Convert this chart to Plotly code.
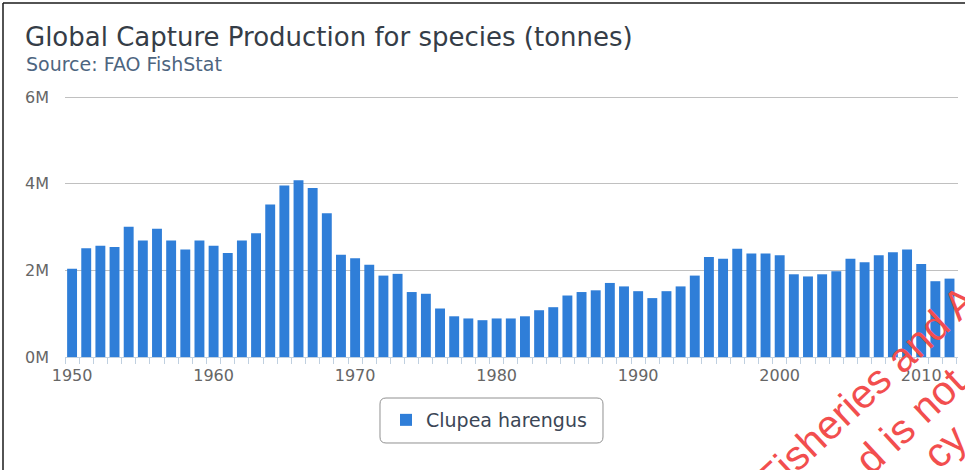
import plotly.graph_objects as go

# FAO FishStat, global capture of Atlantic herring, tonnes per year
years = list(range(1950, 2013))
catch_tonnes = [
    2040000, 2510000, 2570000, 2540000, 3010000, 2690000, 2960000, 2690000, 2480000, 2690000,
    2570000, 2400000, 2690000, 2860000, 3520000, 3960000, 4080000, 3900000, 3320000, 2360000,
    2280000, 2130000, 1880000, 1920000, 1500000, 1460000, 1120000, 940000, 890000, 850000,
    890000, 890000, 940000, 1080000, 1150000, 1420000, 1500000, 1540000, 1710000, 1630000,
    1520000, 1360000, 1520000, 1630000, 1880000, 2310000, 2270000, 2500000, 2390000, 2390000,
    2350000, 1910000, 1860000, 1910000, 1980000, 2270000, 2190000, 2350000, 2420000, 2480000,
    2150000, 1750000, 1810000,
]
series_name = "Clupea harengus"

x_tick_values = [1950, 1960, 1970, 1980, 1990, 2000, 2010]
x_tick_labels = ["1950", "1960", "1970", "1980", "1990", "2000", "2010"]
y_tick_values = [0, 2000000, 4000000, 6000000]
y_tick_labels = ["0M", "2M", "4M", "6M"]

title_text = "Global Capture Production for species (tonnes)"
subtitle_text = "Source: FAO FishStat"
watermark_lines = ["Fisheries and A", "d is not", "cy"]

W, H = 965, 470
Y_MAX = 6050000  # a little headroom so the 6M gridline is drawn
L, R, T, B = 65, 7, 95, 113
PW, PH = W - L - R, H - T - B
FONT = "DejaVu Sans"


def to_paper(x, y):
    """Pixel position on the page -> paper coordinates."""
    return (x - L) / PW, (H - B - y) / PH


def rounded_box(x0, y0, x1, y1, r):
    def p(x, y):
        a, b = to_paper(x, y)
        return f"{a:.5f},{b:.5f}"
    parts = [
        "M" + p(x0 + r, y0), "L" + p(x1 - r, y0),
        "Q" + p(x1, y0) + " " + p(x1, y0 + r), "L" + p(x1, y1 - r),
        "Q" + p(x1, y1) + " " + p(x1 - r, y1), "L" + p(x0 + r, y1),
        "Q" + p(x0, y1) + " " + p(x0, y1 - r), "L" + p(x0, y0 + r),
        "Q" + p(x0, y0) + " " + p(x0 + r, y0),
    ]
    return " ".join(parts) + " Z"


fig = go.Figure()
fig.add_trace(go.Bar(
    x=years, y=catch_tonnes, name=series_name,
    marker=dict(color="#2f7ed8", line=dict(width=0)),
    showlegend=True,
))

fx0, fy0 = to_paper(3, 3)
fx1, fy1 = to_paper(W + 5, H + 5)
shapes = [
    dict(type="line", xref="paper", yref="paper", x0=fx0, y0=fy0, x1=fx0, y1=fy1,
         line=dict(color="#1a1a1a", width=1.5)),
    dict(type="line", xref="paper", yref="paper", x0=fx0, y0=fy0, x1=fx1, y1=fy0,
         line=dict(color="#1a1a1a", width=1.5)),
    dict(type="path", xref="paper", yref="paper", path=rounded_box(380, 398, 603, 443, 6),
         line=dict(color="#909090", width=1)),
]

sx, sy = to_paper(24, 64)
annotations = [
    dict(text=subtitle_text, xref="paper", yref="paper", x=sx, y=sy,
         xanchor="left", yanchor="middle", showarrow=False,
         font=dict(family=FONT, size=19, color="#4d6580")),
]
for line, (cx, cy) in zip(watermark_lines, [(866, 390), (910, 421), (945, 446)]):
    ax, ay = to_paper(cx, cy)
    annotations.append(dict(
        text=line, xref="paper", yref="paper", x=ax, y=ay,
        xanchor="center", yanchor="middle", showarrow=False, textangle=-43,
        font=dict(family="Liberation Sans", size=41, color="#f24e4e"),
    ))

lx, ly = to_paper(489, 420)
fig.update_layout(
    width=W, height=H,
    margin=dict(l=L, r=R, t=T, b=B, autoexpand=False),
    paper_bgcolor="white", plot_bgcolor="white",
    font=dict(family=FONT, color="#666666"),
    title=dict(text=title_text, x=25 / W, y=1 - 37 / H, xref="container", yref="container",
               xanchor="left", yanchor="middle",
               font=dict(family=FONT, size=26, color="#353d47")),
    bargap=0.3,
    showlegend=True,
    legend=dict(x=lx, y=ly, xanchor="center", yanchor="middle",
                orientation="h", bgcolor="rgba(0,0,0,0)", borderwidth=0,
                font=dict(family=FONT, size=19, color="#3b4656")),
    shapes=shapes,
    annotations=annotations,
)
fig.update_xaxes(
    range=[1949.5, 2012.6],
    tickmode="array", tickvals=x_tick_values, ticktext=x_tick_labels,
    ticks="", showgrid=False, zeroline=False,
    showline=True, linecolor="#c0d0e0", linewidth=1,
    minor=dict(ticks="outside", tick0=1949.5, dtick=1, ticklen=6,
               tickcolor="#c0d0e0", showgrid=False),
    tickfont=dict(family=FONT, size=16, color="#666666"),
    ticklabelstandoff=4,
)
fig.update_yaxes(
    range=[0, Y_MAX],
    tickmode="array", tickvals=y_tick_values, ticktext=y_tick_labels,
    showgrid=True, gridcolor="#c0c0c0", gridwidth=1, zeroline=False,
    showline=False, ticks="",
    tickfont=dict(family=FONT, size=16, color="#666666"),
    ticklabelstandoff=15,
)

# drop the browser's default body margin so the chart sits at the page corner
fig.write_html("out.html", config={"displayModeBar": False},
               post_script="document.body.style.margin = '0';")
